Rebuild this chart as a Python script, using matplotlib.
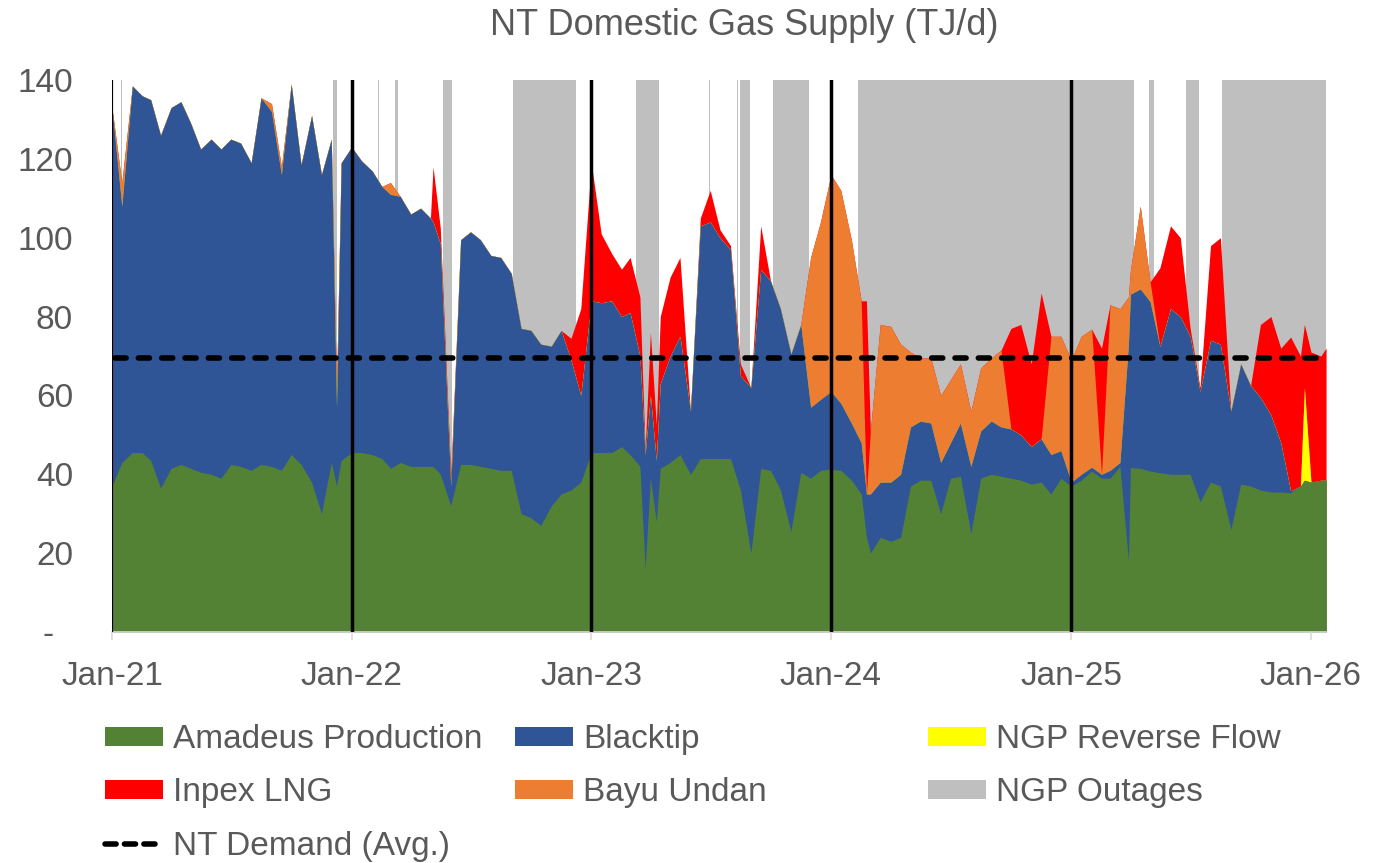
import matplotlib
matplotlib.use('Agg')
import matplotlib.pyplot as plt
import matplotlib.dates as mdates
from matplotlib.patches import Patch
from matplotlib.lines import Line2D
import numpy as np
import pandas as pd

plt.rcParams['font.family'] = ['Liberation Sans', 'DejaVu Sans']

# ---------------- data (TJ/d) ----------------
dates = [
    # 2021
    '2021-01-01', '2021-01-16', '2021-02-01', '2021-02-16', '2021-03-01', '2021-03-16', '2021-04-01', '2021-04-16',
    '2021-05-01', '2021-05-16', '2021-06-01', '2021-06-16', '2021-07-01', '2021-07-16', '2021-08-01', '2021-08-16',
    '2021-09-01', '2021-09-16', '2021-10-01', '2021-10-16', '2021-11-01', '2021-11-16', '2021-12-01', '2021-12-09',
    '2021-12-16',
    # 2022
    '2022-01-01', '2022-01-16', '2022-02-01', '2022-02-16', '2022-03-01', '2022-03-16', '2022-04-01', '2022-04-16',
    '2022-05-01', '2022-05-05', '2022-05-16', '2022-06-01', '2022-06-16', '2022-07-01', '2022-07-16', '2022-08-01',
    '2022-08-16', '2022-09-01', '2022-09-16', '2022-10-01', '2022-10-16', '2022-11-01', '2022-11-16', '2022-12-01',
    '2022-12-16',
    # 2023
    '2023-01-01', '2023-01-16', '2023-02-01', '2023-02-16', '2023-03-01', '2023-03-16', '2023-03-24', '2023-04-01',
    '2023-04-10', '2023-04-16', '2023-05-01', '2023-05-16', '2023-06-01', '2023-06-16', '2023-07-01', '2023-07-16',
    '2023-08-01', '2023-08-16', '2023-09-01', '2023-09-16', '2023-10-01', '2023-10-16', '2023-11-01', '2023-11-16',
    '2023-12-01', '2023-12-16',
    # 2024
    '2024-01-01', '2024-01-16', '2024-02-01', '2024-02-16', '2024-02-24', '2024-03-01', '2024-03-16', '2024-04-01',
    '2024-04-16', '2024-05-01', '2024-05-16', '2024-06-01', '2024-06-16', '2024-07-01', '2024-07-16', '2024-08-01',
    '2024-08-16', '2024-09-01', '2024-09-16', '2024-10-01', '2024-10-16', '2024-11-01', '2024-11-16', '2024-12-01',
    '2024-12-16',
    # 2025
    '2025-01-01', '2025-01-16', '2025-02-01', '2025-02-16', '2025-03-01', '2025-03-16', '2025-03-29', '2025-04-01',
    '2025-04-16', '2025-05-01', '2025-05-16', '2025-06-01', '2025-06-16', '2025-07-01', '2025-07-16', '2025-08-01',
    '2025-08-16', '2025-09-01', '2025-09-16', '2025-10-01', '2025-10-16', '2025-11-01', '2025-11-16', '2025-12-01',
    '2025-12-16', '2025-12-22',
    # 2026
    '2026-01-01', '2026-01-16', '2026-01-24',
]

amadeus = [
    37, 43, 45.5, 45.5, 43.5, 36.5, 41.5, 42.5, 41.5, 40.5, 40, 39, 42.5, 42, 41, 42.5, 42, 41, 45, 42.5, 38, 30, 43, 37, 43.5,
    45.5, 45.5, 45, 44, 41.5, 43, 42, 42, 42, 42, 40, 32, 42.5, 42.5, 42, 41.5, 41, 41, 30, 29, 27, 32, 35, 36, 38,
    45.5, 45.5, 45.5, 47, 45, 42, 16, 39, 28, 41.5, 43, 45, 40, 44, 44, 44, 44, 36, 20, 41.5, 41, 36, 25.5, 40.5, 39, 41,
    41.3, 41, 38.5, 35, 24, 20, 24, 23, 24, 37, 38.5, 38.5, 30, 39, 39.5, 25, 39, 40, 39.5, 39, 38.5, 37.5, 38, 35, 39,
    37, 38.5, 40.8, 39, 39, 42, 18, 41.7, 41.5, 40.8, 40.4, 40, 40, 40, 33, 38, 37, 26, 37.5, 37, 36, 35.5, 35.5, 35.3, 37, 38.5,
    38, 38.5, 38.5,
]

blacktip = [
    96, 65, 93, 90.5, 91.5, 89.5, 91.5, 92, 87.5, 82, 85, 83.5, 82.5, 82, 78, 93, 90, 75, 94, 76, 93, 86, 82, 20, 75.5,
    77.5, 74, 72, 69, 69.5, 67.5, 64, 65.5, 63, 62, 58.5, 5, 57, 59, 57.5, 54, 54, 50, 47, 47.5, 46, 40.5, 41.5, 33, 22,
    38.5, 38, 38.5, 33, 36, 28, 29, 21, 15.5, 21.5, 27, 30, 16, 59, 60, 56, 53, 29, 42, 50.5, 48, 46, 45, 37.5, 18, 18,
    19.7, 17, 14.5, 13, 11, 15, 14, 15, 16, 15, 15, 14.5, 13, 9, 13.5, 17, 12, 13.5, 12.5, 12.5, 11.5, 9.5, 11, 10, 7,
    1, 1.5, 1, 1, 2, 1, 55, 44, 45.5, 43, 32, 42, 40, 35, 28, 36, 36, 30, 30.5, 25.5, 23.5, 19.5, 12.5, 0.5, 0, 0,
    0, 0, 0,
]

reverse_flow = [
    0] * 25 + [
    0] * 25 + [
    0] * 26 + [
    0] * 25 + [
    0] * 25 + [23.5] + [
    0, 0, 0,
]

inpex = [
    0, 0, 0, 0, 0, 0, 0, 0, 0, 0, 0, 0, 0, 0, 0, 0, 0, 0, 0, 0, 0, 0, 0, 0, 0,
    0, 0, 0, 0, 0, 0, 0, 0, 0, 14, 4, 3, 0, 0, 0, 0, 0, 0, 0, 0, 0, 0, 0, 5.5, 22,
    35, 17.5, 12, 12, 14, 15, 1, 16, 9, 17, 20, 20, 0, 2, 8, 2, 1, 3, 0, 11, 0, 0, 0, 0, 0, 0,
    0, 0, 0, 0, 49, 0, 0, 0, 0, 0, 0, 0, 0, 0, 0, 0, 0, 0, 0, 25.5, 28, 21, 37, 0, 0,
    0, 0, 0, 32, 0, 0, 0, 0, 0, 0, 20, 21, 20, 2, 1, 24, 27, 0, 0, 0, 18.5, 25, 24, 39, 33, 16,
    33, 31.5, 33.5,
]

bayu_undan = [
    0, 6, 0, 0, 0, 0, 0, 0, 0, 0, 0, 0, 0, 0, 0, 0, 2, 2, 0, 0, 0, 0, 0, 5, 0,
    0, 0, 0, 0, 3, 0, 0, 0, 0, 0, 0, 0, 0, 0, 0, 0, 0, 0, 0, 0, 0, 0, 0, 0, 0,
    0, 0, 0, 0, 0, 0, 0, 0, 0, 0, 0, 0, 0, 0, 0, 0, 0, 0, 0, 0, 0, 0, 0, 0, 38, 45,
    55, 54, 46.5, 36, 0, 16, 40, 39.5, 33, 19, 16, 16.5, 17, 16, 15, 14, 16, 16, 19.5, 0, 0, 0, 0, 30, 29,
    31, 35, 35, 0, 42, 39, 12, 6, 21, 5, 0, 0, 0, 0, 0, 0, 0, 0, 0, 0, 0, 0, 0, 0, 0, 0,
    0, 0, 0,
]

outage_start = ['2021-01-15', '2021-10-29', '2021-11-21', '2021-12-03', '2022-02-10', '2022-03-08', '2022-03-29',
                '2022-05-20', '2022-09-03', '2023-02-04', '2023-03-10', '2023-06-30', '2023-08-11', '2023-08-16',
                '2023-10-04', '2024-01-11', '2024-02-11', '2025-04-29', '2025-06-24', '2025-08-18']
outage_end = ['2021-01-16', '2021-10-30', '2021-11-22', '2021-12-09', '2022-02-11', '2022-03-12', '2022-03-30',
              '2022-06-03', '2022-12-09', '2023-02-05', '2023-04-14', '2023-07-01', '2023-08-12', '2023-08-30',
              '2023-11-28', '2024-01-12', '2025-04-06', '2025-05-07', '2025-07-14', '2026-01-24']

nt_demand_avg = 69.5

year_ticks = ['2021-01-01', '2022-01-01', '2023-01-01', '2024-01-01', '2025-01-01', '2026-01-01']
year_labels = ['Jan-21', 'Jan-22', 'Jan-23', 'Jan-24', 'Jan-25', 'Jan-26']
y_ticks = [0, 20, 40, 60, 80, 100, 120, 140]

labels = ['Amadeus Production', 'Blacktip', 'NGP Reverse Flow', 'Inpex LNG', 'Bayu Undan', 'NGP Outages',
          'NT Demand (Avg.)']

# ---------------- style ----------------
C_GREEN = '#548235'
C_BLUE = '#2F5597'
C_YELLOW = '#FFFF00'
C_RED = '#FF0000'
C_ORANGE = '#ED7D31'
C_GREY = '#BFBFBF'
C_TEXT = '#595959'

x = mdates.date2num(pd.to_datetime(dates))
x0 = mdates.date2num(pd.Timestamp('2021-01-01'))
x1 = mdates.date2num(pd.Timestamp('2026-01-24'))

fig = plt.figure(figsize=(13.89, 8.63), dpi=100)
ax = fig.add_axes([0.0806, 0.2677, 0.9547 - 0.0806, 0.9073 - 0.2677])

# outages as background bands
for s, e in zip(outage_start, outage_end):
    ax.axvspan(mdates.date2num(pd.Timestamp(s)), mdates.date2num(pd.Timestamp(e)),
               color=C_GREY, lw=0, zorder=0)

# stacked areas: draw cumulative tops from the top layer down so no seams appear
series = [np.array(amadeus, float), np.array(blacktip, float), np.array(reverse_flow, float),
          np.array(bayu_undan, float), np.array(inpex, float)]
cols = [C_GREEN, C_BLUE, C_YELLOW, C_ORANGE, C_RED]
cum = np.cumsum(np.vstack(series), axis=0)
for i in range(len(series) - 1, -1, -1):
    ax.fill_between(x, 0, cum[i], color=cols[i], lw=0, zorder=1 + (len(series) - i) * 0.01)

# year marker lines
for i, t in enumerate(year_ticks[:-1]):
    ax.axvline(mdates.date2num(pd.Timestamp(t)), color='black', lw=1.6 if i == 0 else 2.5, zorder=3)

# demand line
ax.plot([x0 + 4, x1], [nt_demand_avg, nt_demand_avg], color='black', lw=4,
        dashes=(2.0, 2.2), dash_capstyle='round', zorder=4)

ax.set_xlim(x0, x1)
ax.set_ylim(0, 140)

ax.set_xticks([mdates.date2num(pd.Timestamp(t)) for t in year_ticks])
ax.set_xticklabels(year_labels)
ax.set_yticks(y_ticks)
ax.set_yticklabels(['-  ' if v == 0 else str(v) for v in y_ticks])

ax.tick_params(axis='x', colors='#D9D9D9', labelcolor=C_TEXT, labelsize=24, length=6, width=1.2,
               direction='out', pad=15)
ax.tick_params(axis='y', length=0, labelcolor=C_TEXT, labelsize=24, pad=28)

for sp in ['top', 'right', 'left']:
    ax.spines[sp].set_visible(False)
ax.spines['bottom'].set_color('#D9D9D9')
ax.spines['bottom'].set_linewidth(1.2)

fig.text(0.536, 0.971, 'NT Domestic Gas Supply (TJ/d)', ha='center', va='center', fontsize=26, color=C_TEXT)

# legend in three columns
h_green = Patch(facecolor=C_GREEN, edgecolor='none')
h_blue = Patch(facecolor=C_BLUE, edgecolor='none')
h_yellow = Patch(facecolor=C_YELLOW, edgecolor='none')
h_red = Patch(facecolor=C_RED, edgecolor='none')
h_orange = Patch(facecolor=C_ORANGE, edgecolor='none')
h_grey = Patch(facecolor=C_GREY, edgecolor='none')
h_dem = Line2D([0], [0], color='black', lw=4, dashes=(2.0, 1.5), dash_capstyle='round')

leg_kw = dict(loc='upper left', frameon=False, fontsize=24, handlelength=1.75, handleheight=0.5,
              handletextpad=0.3, labelspacing=0.67, borderpad=0, borderaxespad=0, labelcolor=C_TEXT)
cols_spec = [
    ([h_green, h_red, h_dem], [labels[0], labels[3], labels[6]], 0.0756),
    ([h_blue, h_orange], [labels[1], labels[4]], 0.3708),
    ([h_yellow, h_grey], [labels[2], labels[5]], 0.668),
]
for hs, ls, xa in cols_spec:
    lg = fig.legend(hs, ls, bbox_to_anchor=(xa, 0.161), **leg_kw)

fig.savefig('out.png', dpi=100)
